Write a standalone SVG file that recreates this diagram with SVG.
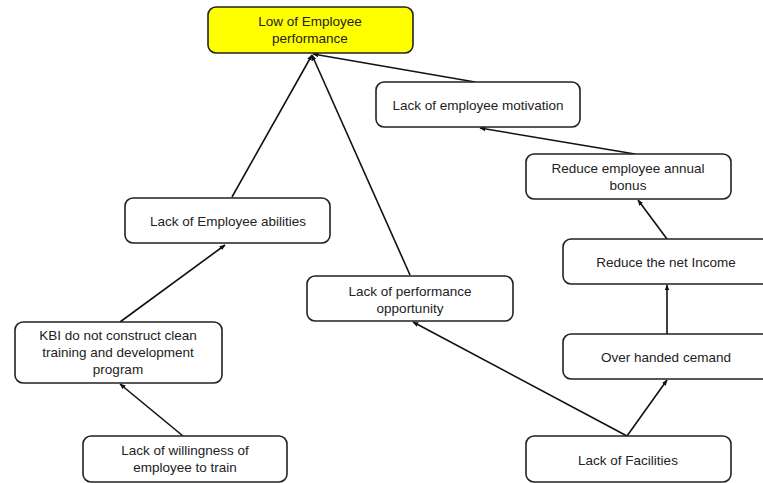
<svg xmlns="http://www.w3.org/2000/svg" width="763" height="483" viewBox="0 0 763 483">
<defs>
<marker id="ah" viewBox="0 0 10 10" refX="9" refY="5" markerWidth="6" markerHeight="6" orient="auto" markerUnits="userSpaceOnUse">
<path d="M0,1 L10,5 L0,9 z" fill="#111"/>
</marker>
<style>
.box{fill:#fff;stroke:#222;stroke-width:1.6}
.top{fill:#ffff00;stroke:#222;stroke-width:1.6}
text{font-family:"Liberation Sans",Arial,sans-serif;font-size:13.5px;fill:#222;text-anchor:middle}
.c line{stroke:#111;stroke-width:1.6;marker-end:url(#ah)}
</style>
</defs>
<rect width="763" height="483" fill="#fff"/>
<g class="c" id="connectors">
<line x1="232" y1="197" x2="312" y2="55"/>
<line x1="410" y1="275" x2="312" y2="55"/>
<line x1="475" y1="82" x2="313" y2="54"/>
<line x1="120" y1="322" x2="225" y2="245"/>
<line x1="183" y1="436" x2="120" y2="384"/>
<line x1="635" y1="154" x2="480" y2="128"/>
<line x1="667" y1="239" x2="638" y2="200"/>
<line x1="667" y1="334" x2="667" y2="285"/>
<line x1="627" y1="436" x2="667" y2="380"/>
<line x1="627" y1="436" x2="413" y2="322"/>
</g>
<g id="n-top"><rect class="top" x="208" y="7" width="205" height="46" rx="8"/><text x="310" y="26">Low of Employee</text><text x="310" y="43">performance</text></g>
<g id="n-motivation"><rect class="box" x="376" y="82" width="204" height="45" rx="8"/><text x="478" y="110">Lack of employee motivation</text></g>
<g id="n-abilities"><rect class="box" x="125" y="198" width="205" height="45" rx="8"/><text x="228" y="226">Lack of Employee abilities</text></g>
<g id="n-kbi"><rect class="box" x="15" y="322" width="207" height="61" rx="8"/><text x="118" y="340">KBI do not construct clean</text><text x="118" y="357">training and development</text><text x="118" y="374">program</text></g>
<g id="n-willing"><rect class="box" x="83" y="436" width="204" height="46" rx="8"/><text x="185" y="455">Lack of willingness of</text><text x="185" y="472">employee to train</text></g>
<g id="n-opportunity"><rect class="box" x="307" y="276" width="206" height="45" rx="8"/><text x="410" y="296">Lack of performance</text><text x="410" y="313">opportunity</text></g>
<g id="n-bonus"><rect class="box" x="526" y="154" width="205" height="45" rx="8"/><text x="628" y="173">Reduce employee annual</text><text x="628" y="190">bonus</text></g>
<g id="n-income"><rect class="box" x="563" y="239" width="210" height="45" rx="8"/><text x="666" y="267">Reduce the net Income</text></g>
<g id="n-demand"><rect class="box" x="563" y="334" width="210" height="45" rx="8"/><text x="666" y="362">Over handed cemand</text></g>
<g id="n-facilities"><rect class="box" x="526" y="436" width="205" height="46" rx="8"/><text x="628" y="465">Lack of Facilities</text></g>
</svg>
